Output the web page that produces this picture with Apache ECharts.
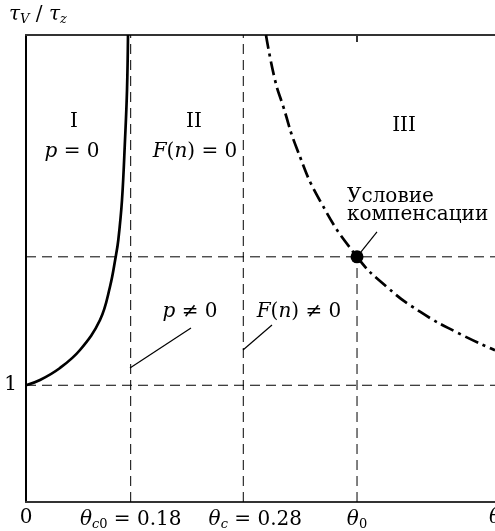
<!DOCTYPE html>
<html>
<head>
<meta charset="utf-8">
<script src="https://cdn.jsdelivr.net/npm/echarts@6/dist/echarts.min.js"></script>
<style>
html, body { margin: 0; padding: 0; background: #fff; }
#chart { width: 495px; height: 531px; }
</style>
</head>
<body>
<div id="chart"></div>
<script>
// schematic axes: x in arbitrary units 0..100, y in units of tau_V/tau_z
var curveI = [[0, 1.0], [2.99, 1.045], [7.25, 1.148], [11.51, 1.302], [15.78, 1.559],
    [17.91, 1.844], [19.13, 2.101], [19.68, 2.244], [20.47, 2.587], [21.11, 3.10],
    [21.54, 3.53], [21.75, 4.0]];
var curveIII = [[51.17, 4.0], [53.09, 3.615], [54.86, 3.386], [57.72, 3.03], [62.7, 2.58],
    [70.58, 2.10], [77, 1.84], [84.01, 1.63], [92, 1.45], [100, 1.30]];
var xTicks = [0, 22.32, 46.33, 70.58, 100];
var xTickLabels = ['0', '{i|θ}{s|c}{u|0} = 0.18', '{w|}{i|θ}{s|c} = 0.28', '{i|θ}{u|0}', '{i|θ}'];
var yTicks = [1];
var yTickLabels = ['1'];
var levelOne = 1;
var levelComp = 2.1;
var thetaC0 = 22.32, thetaC = 46.33, theta0 = 70.58;
var compPoint = [theta0, levelComp];
var leaders = [
    [[22.17, 1.148], [35.18, 1.49]],
    [[46.27, 1.302], [52.45, 1.516]],
    [[70.58, 2.1], [74.84, 2.313]]
];

var myChart = echarts.init(document.getElementById('chart'));

var serif = '"DejaVu Serif", "Liberation Serif", serif';
var mathRich = {
    i: { fontFamily: serif, fontStyle: 'italic', fontSize: 20, color: '#000' },
    s: { fontFamily: serif, fontStyle: 'italic', fontSize: 13, color: '#000', verticalAlign: 'bottom', padding: [10, 0, 0, 0] },
    u: { fontFamily: serif, fontSize: 13, color: '#000', verticalAlign: 'bottom', padding: [10, 0, 0, 0] },
    n: { fontFamily: serif, fontSize: 20, color: '#000' },
    w: { width: 24 }
};

function dashed(data) {
    return {
        type: 'line', data: data, symbol: 'none', silent: true,
        lineStyle: { color: '#000', width: 1, type: [10, 6] }
    };
}

var series = [
    dashed([[0, levelOne], [100, levelOne]]),
    dashed([[0, levelComp], [100, levelComp]]),
    dashed([[thetaC0, 0], [thetaC0, 4]]),
    dashed([[thetaC, 0], [thetaC, 4]]),
    dashed([[theta0, 0], [theta0, levelComp]]),
    {
        type: 'line', data: curveI, symbol: 'none', smooth: 0.4, silent: true,
        lineStyle: { color: '#000', width: 2.7 }
    },
    {
        type: 'line', data: curveIII, symbol: 'none', smooth: true, silent: true,
        lineStyle: { color: '#000', width: 2.7, type: [14, 5, 3, 5] }
    }
];
leaders.forEach(function (l) {
    series.push({
        type: 'line', data: l, symbol: 'none', silent: true,
        lineStyle: { color: '#000', width: 1.2 }
    });
});
series.push({
    type: 'scatter', data: [compPoint], symbolSize: 13, silent: true,
    itemStyle: { color: '#000', opacity: 1 }
});

function txt(x, y, text, align) {
    return {
        type: 'text', x: x, y: y, silent: true,
        style: {
            text: text, align: align || 'center', verticalAlign: 'middle',
            fontFamily: serif, fontSize: 20, fill: '#000', rich: mathRich
        }
    };
}

option = {
    animation: false,
    backgroundColor: '#fff',
    grid: { left: 26, right: 0, top: 35, bottom: 29, outerBoundsMode: 'none' },
    xAxis: [{
        type: 'value', min: 0, max: 100, position: 'bottom',
        splitLine: { show: false },
        axisLine: { lineStyle: { color: '#333', width: 2 } },
        axisTick: { show: false },
        axisLabel: {
            customValues: xTicks, margin: 6, color: '#000', hideOverlap: false,
            fontFamily: serif, fontSize: 20, rich: mathRich,
            formatter: function (v) { return xTickLabels[xTicks.indexOf(v)]; }
        }
    }, {
        type: 'value', min: 0, max: 100, position: 'top',
        splitLine: { show: false },
        axisLine: { lineStyle: { color: '#333', width: 2 } },
        axisTick: { customValues: [theta0], inside: true, length: 7, lineStyle: { color: '#333', width: 2 } },
        axisLabel: { show: false }
    }],
    yAxis: {
        type: 'value', min: 0, max: 4,
        splitLine: { show: false },
        axisLine: { lineStyle: { color: '#000', width: 2 } },
        axisTick: { show: false },
        axisLabel: {
            customValues: yTicks, margin: 9, color: '#000',
            fontFamily: serif, fontSize: 20,
            formatter: function (v) { return yTickLabels[yTicks.indexOf(v)]; }
        }
    },
    graphic: [
        txt(9, 15, '{i|τ}{s|V}{n| / }{i|τ}{s|z}', 'left'),
        txt(74, 122, 'I'),
        txt(72, 152, '{i|p} = 0'),
        txt(194, 122, 'II'),
        txt(195, 152, '{i|F}({i|n}) = 0'),
        txt(404, 126, 'III'),
        txt(347, 197, 'Условие', 'left'),
        txt(347, 215, 'компенсации', 'left'),
        txt(190, 312, '{i|p} ≠ 0'),
        txt(299, 312, '{i|F}({i|n}) ≠ 0')
    ],
    series: series
};
myChart.setOption(option);
</script>
</body>
</html>
